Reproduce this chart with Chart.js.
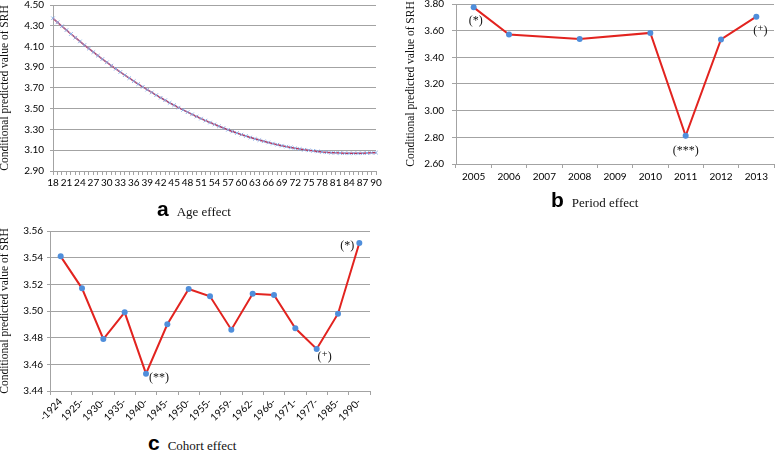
<!DOCTYPE html>
<html>
<head>
<meta charset="utf-8">
<script src="https://cdn.jsdelivr.net/npm/chart.js@4.4.1/dist/chart.umd.min.js"></script>
<style>
  html, body { margin: 0; padding: 0; background: #fff; }
  body { width: 778px; height: 450px; position: relative; overflow: hidden; }
  canvas { position: absolute; }
  .cap { position: absolute; display: flex; align-items: baseline; white-space: nowrap; }
  .cap b { font: bold 21px "Liberation Sans", Arial, sans-serif; margin-right: 8px; }
  .cap span { font: 13px "Liberation Serif", "Times New Roman", serif; color: #111; }
</style>
</head>
<body>
<canvas id="ageChart" width="392" height="190" style="left:-2px;top:0px"></canvas>
<canvas id="periodChart" width="374" height="190" style="left:404px;top:0px"></canvas>
<canvas id="cohortChart" width="392" height="210" style="left:-2px;top:220px"></canvas>

<div class="cap" style="left:157px;top:197px"><b>a</b><span>Age effect</span></div>
<div class="cap" style="left:551px;top:188px"><b>b</b><span>Period effect</span></div>
<div class="cap" style="left:148px;top:431px"><b>c</b><span>Cohort effect</span></div>

<script>
// Age effect (a)
const ages = [18, 19, 20, 21, 22, 23, 24, 25, 26, 27, 28, 29, 30, 31, 32, 33, 34, 35, 36, 37,
	38, 39, 40, 41, 42, 43, 44, 45, 46, 47, 48, 49, 50, 51, 52, 53, 54, 55, 56, 57,
	58, 59, 60, 61, 62, 63, 64, 65, 66, 67, 68, 69, 70, 71, 72, 73, 74, 75, 76, 77,
	78, 79, 80, 81, 82, 83, 84, 85, 86, 87, 88, 89, 90];
const ageValues = [4.372, 4.333, 4.295, 4.258, 4.221, 4.185, 4.149, 4.114, 4.080, 4.046,
	4.012, 3.979, 3.947, 3.916, 3.885, 3.854, 3.824, 3.795, 3.766, 3.738,
	3.711, 3.684, 3.657, 3.631, 3.606, 3.582, 3.557, 3.534, 3.511, 3.489,
	3.467, 3.446, 3.425, 3.405, 3.386, 3.367, 3.349, 3.331, 3.314, 3.297,
	3.281, 3.266, 3.251, 3.237, 3.223, 3.210, 3.198, 3.186, 3.175, 3.164,
	3.154, 3.144, 3.135, 3.127, 3.119, 3.112, 3.105, 3.099, 3.094, 3.089,
	3.084, 3.080, 3.077, 3.075, 3.073, 3.071, 3.070, 3.070, 3.070, 3.071,
	3.073, 3.075, 3.077];

// Period effect (b)
const years = ['2005', '2006', '2007', '2008', '2009', '2010', '2011', '2012', '2013'];
const periodValues = [3.775, 3.571, null, 3.537, null, 3.583, 2.811, 3.534, 3.705];
const periodMarks = ['(*)', '', '', '', '', '', '(***)', '', '(\u207A)'];

// Cohort effect (c)
const cohorts = ['-1924', '1925-', '1930-', '1935-', '1940-', '1945-', '1950-', '1955-',
	'1959-', '1962-', '1966-', '1971-', '1977-', '1985-', '1990-'];
const cohortValues = [3.541, 3.517, 3.479, 3.499, 3.453, 3.490, 3.5165, 3.511,
	3.486, 3.513, 3.512, 3.487, 3.4715, 3.498, 3.551];
const cohortMarks = ['', '', '', '', '(**)', '', '', '', '', '', '', '', '(\u207A)', '', '(*)'];

const gridGrey = '#a3a3a3';
const tickFont = { family: 'Lato, "Open Sans", sans-serif', size: 10 };
const titleFont = { family: '"Liberation Serif", "Times New Roman", serif', size: 11.5 };
const yTitle = 'Conditional predicted value of SRH';

// writes the significance marks next to the points
function markPlugin(texts, offsets) {
	return {
		id: 'marks',
		afterDatasetsDraw(chart) {
			const ctx = chart.ctx;
			const pts = chart.getDatasetMeta(0).data;
			ctx.save();
			ctx.font = '12px "Liberation Serif", "DejaVu Serif", serif';
			ctx.fillStyle = '#111';
			ctx.textAlign = 'center';
			ctx.textBaseline = 'middle';
			texts.forEach((t, i) => {
				if (!t) return;
				const off = offsets[i] || [0, 0];
				ctx.fillText(t, pts[i].x + off[0], pts[i].y + off[1]);
			});
			ctx.restore();
		}
	};
}

function yAxis(min, max, step, width, tickLen, pad) {
	return {
		min: min, max: max,
		ticks: { stepSize: step, color: '#000', font: tickFont, padding: pad,
			callback: v => Number(v).toFixed(2) },
		grid: { color: gridGrey, tickLength: tickLen, lineWidth: 1 },
		border: { color: gridGrey },
		title: { display: true, text: yTitle, color: '#111', font: titleFont, padding: 0 },
		afterFit: s => { s.width = width; s.paddingTop = 0; s.paddingBottom = 0; }
	};
}

const common = {
	responsive: false,
	animation: false,
	devicePixelRatio: 1,
	plugins: { legend: { display: false }, tooltip: { enabled: false } }
};

new Chart(document.getElementById('ageChart'), {
	type: 'line',
	data: {
		labels: ages,
		datasets: [{
			data: ageValues,
			borderColor: '#b8365e',
			borderWidth: 1.5,
			tension: 0,
			pointStyle: 'crossRot',
			pointRadius: 2.5,
			pointBorderColor: '#86aee6',
			pointBorderWidth: 1
		}]
	},
	options: Object.assign({}, common, {
		layout: { padding: { top: 3, right: 14, bottom: 0, left: 0 } },
		scales: {
			x: {
				offset: false,
				ticks: { autoSkip: false, maxRotation: 0, color: '#000', font: tickFont, padding: 2,
					callback: (v, i) => (i % 3 === 0 ? ages[i] : '') },
				grid: { drawOnChartArea: false, tickLength: 4, color: gridGrey },
				border: { color: gridGrey },
				afterFit: s => { s.height = 19; s.paddingLeft = 0; s.paddingRight = 0; }
			},
			y: yAxis(2.9, 4.5, 0.2, 55, 3, 6)
		}
	})
});

new Chart(document.getElementById('periodChart'), {
	type: 'line',
	data: {
		labels: years,
		datasets: [{
			data: periodValues,
			spanGaps: true,
			borderColor: '#e2231f',
			borderWidth: 2,
			tension: 0,
			pointRadius: 3,
			pointBackgroundColor: '#4f8edb',
			pointBorderWidth: 0
		}]
	},
	options: Object.assign({}, common, {
		layout: { padding: { top: 3, right: 1, bottom: 0, left: 0 } },
		scales: {
			x: {
				offset: true,
				ticks: { autoSkip: false, maxRotation: 0, color: '#000', font: tickFont, padding: 3 },
				grid: { offset: true, drawOnChartArea: false, tickLength: 4, color: gridGrey },
				border: { color: gridGrey },
				afterFit: s => { s.height = 26; s.paddingLeft = 0; s.paddingRight = 0; }
			},
			y: yAxis(2.6, 3.8, 0.2, 52, 4, 8)
		}
	}),
	plugins: [markPlugin(periodMarks, { 0: [2, 14], 6: [0, 15], 8: [4, 14] })]
});

new Chart(document.getElementById('cohortChart'), {
	type: 'line',
	data: {
		labels: cohorts,
		datasets: [{
			data: cohortValues,
			borderColor: '#e2231f',
			borderWidth: 2,
			tension: 0,
			pointRadius: 3,
			pointBackgroundColor: '#4f8edb',
			pointBorderWidth: 0
		}]
	},
	options: Object.assign({}, common, {
		layout: { padding: { top: 11, right: 20, bottom: 0, left: 0 } },
		scales: {
			x: {
				offset: true,
				ticks: { autoSkip: false, minRotation: 45, maxRotation: 45, color: '#000', font: tickFont, padding: 1 },
				grid: { offset: true, drawOnChartArea: false, tickLength: 4, color: gridGrey },
				border: { color: gridGrey },
				afterFit: s => { s.height = 39; s.paddingLeft = 0; s.paddingRight = 0; }
			},
			y: yAxis(3.44, 3.56, 0.02, 52, 3, 4)
		}
	}),
	plugins: [markPlugin(cohortMarks, { 4: [13, 4], 12: [8, 8], 14: [-12, 3] })]
});
</script>
</body>
</html>
